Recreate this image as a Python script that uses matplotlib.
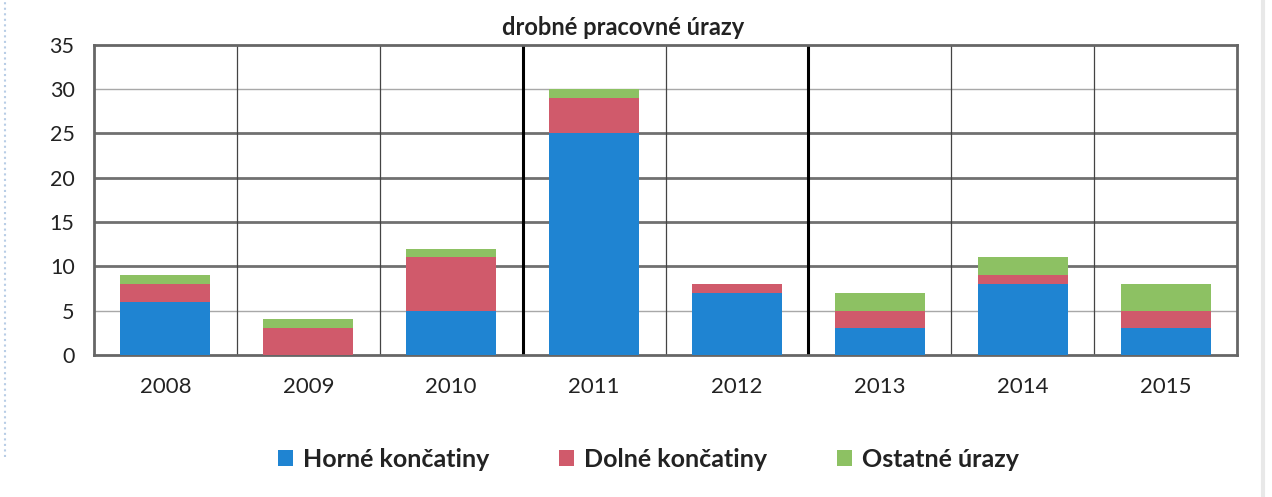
import numpy as np
import matplotlib
matplotlib.use('Agg')
import matplotlib.pyplot as plt

plt.rcParams['font.family'] = ['Lato', 'DejaVu Sans']

years = ['2008', '2009', '2010', '2011', '2012', '2013', '2014', '2015']
horne = [6, 0, 5, 25, 7, 3, 8, 3]
dolne = [2, 3, 6, 4, 1, 2, 1, 2]
ostatne = [1, 1, 1, 1, 0, 2, 2, 3]

labels = ['Horné končatiny', 'Dolné končatiny', 'Ostatné úrazy']
colors = ['#1f84d2', '#d05a6b', '#8dc163']

fig = plt.figure(figsize=(12.72, 4.97), dpi=100)
ax = fig.add_axes([0.0739, 0.286, 0.8986, 0.624])

x = np.arange(len(years))
h = np.array(horne)
d = np.array(dolne)
o = np.array(ostatne)
w = 0.63
ax.bar(x, h, w, color=colors[0], label=labels[0], zorder=3)
ax.bar(x, d, w, bottom=h, color=colors[1], label=labels[1], zorder=3)
ax.bar(x, o, w, bottom=h + d, color=colors[2], label=labels[2], zorder=3)

ax.set_xlim(-0.5, len(years) - 0.5)
ax.set_ylim(0, 35)
ax.set_yticks(range(0, 36, 5))
ax.set_xticks(x)
ax.set_xticklabels(years)

# horizontal grid (the 5 and 30 lines are fainter in the scan)
for yv in range(5, 35, 5):
    if yv in (5, 30):
        ax.axhline(yv, color='#a8a8a8', lw=1.0, zorder=1)
    else:
        ax.axhline(yv, color='#707070', lw=2.0, zorder=1)
# category separators, thick ones after 2010 and 2012
for i in range(1, len(years)):
    thick = i in (3, 5)
    ax.axvline(i - 0.5, color='black' if thick else '#444444',
               lw=2.2 if thick else 0.9, zorder=2)

for s in ax.spines.values():
    s.set_color('#666666')
    s.set_linewidth(2)

ax.tick_params(axis='y', length=0, pad=14, labelsize=15.5, labelcolor='#222222')
ax.tick_params(axis='x', length=0, pad=16, labelsize=16, labelcolor='#222222')

fig.text(0.49, 0.945, 'drobné pracovné úrazy', ha='center', va='center',
         fontsize=17, fontweight='bold', color='#222222')

fig.legend(loc='center', bbox_to_anchor=(0.51, 0.075), ncol=3, frameon=False,
           prop={'size': 18, 'weight': 'bold'}, handlelength=0.6, handleheight=0.6,
           columnspacing=2.8, handletextpad=0.4, labelcolor='#222222')

# scan edges
fig.add_artist(plt.Line2D([0.004, 0.004], [0.08, 1.0], color='#b8cde6',
                          lw=1.5, ls=':', transform=fig.transFigure))
fig.add_artist(plt.Line2D([0.993, 0.993], [0.0, 1.0], color='#e8e8e8',
                          lw=3, transform=fig.transFigure))

fig.savefig('out.png', dpi=100)
